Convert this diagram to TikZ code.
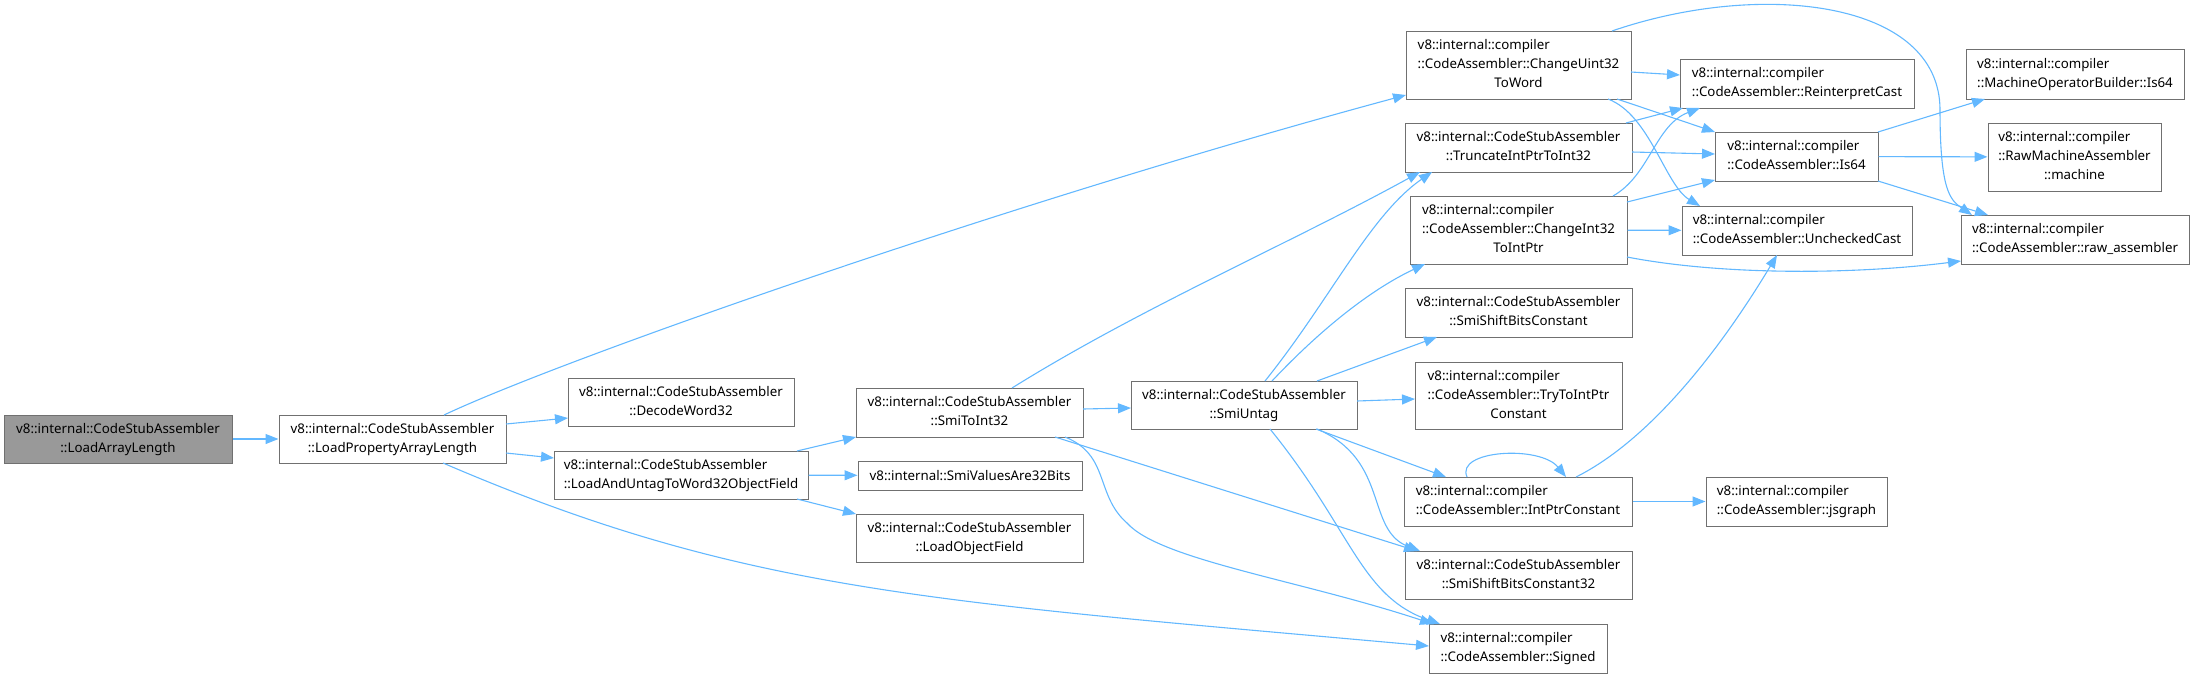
\documentclass[tikz,border=0pt]{standalone}
\usepackage{fontspec}
\setmainfont{Noto Sans}
\usetikzlibrary{arrows.meta}
\definecolor{edgeblue}{HTML}{63B8FF}
\definecolor{boxgray}{HTML}{707070}
\definecolor{startfill}{HTML}{999999}
\newcommand\lbl[2]{\begin{tabular}{@{}l@{}}#1\\\multicolumn{1}{@{}c@{}}{#2}\end{tabular}}
\renewcommand\arraystretch{1}
\tikzset{
  box/.style={draw=boxgray, line width=1pt, fill=white, inner sep=0pt, align=center,
    font=\fontsize{13.3}{19}\selectfont},
  startbox/.style={box, fill=startfill},
  edge/.style={draw=edgeblue, line width=1.1pt, -{Triangle[length=13pt,width=10pt]}},
}
\begin{document}
\begin{tikzpicture}[x=1pt,y=-1pt]
\useasboundingbox (0,0) rectangle (2194,678);
% nodes
\node[startbox, minimum width=228pt, minimum height=48pt] (lal) at (118,439) {\lbl{v8::internal::CodeStubAssembler}{::LoadArrayLength}};
\node[box, minimum width=227pt, minimum height=48pt] (lpal) at (392.5,439) {\lbl{v8::internal::CodeStubAssembler}{::LoadPropertyArrayLength}};
\node[box, minimum width=226pt, minimum height=48pt] (dw32) at (681,402) {\lbl{v8::internal::CodeStubAssembler}{::DecodeWord32}};
\node[box, minimum width=254pt, minimum height=48pt] (lut) at (681,475) {\lbl{v8::internal::CodeStubAssembler}{::LoadAndUntagToWord32ObjectField}};
\node[box, minimum width=227pt, minimum height=49pt] (s2i) at (969.5,412.5) {\lbl{v8::internal::CodeStubAssembler}{::SmiToInt32}};
\node[box, minimum width=224pt, minimum height=29pt] (sva) at (970,475.5) {v8::internal::SmiValuesAre32Bits};
\node[box, minimum width=227pt, minimum height=48pt] (lof) at (969.5,538) {\lbl{v8::internal::CodeStubAssembler}{::LoadObjectField}};
\node[box, minimum width=226pt, minimum height=48pt] (su) at (1244,405) {\lbl{v8::internal::CodeStubAssembler}{::SmiUntag}};
\node[box, minimum width=225pt, minimum height=68pt] (cu32) at (1518.5,65) {\lbl{v8::internal::compiler\\::CodeAssembler::ChangeUint32}{ToWord}};
\node[box, minimum width=227pt, minimum height=49pt] (trunc) at (1518.5,147.5) {\lbl{v8::internal::CodeStubAssembler}{::TruncateIntPtrToInt32}};
\node[box, minimum width=217pt, minimum height=68pt] (ci32) at (1518.5,230) {\lbl{v8::internal::compiler\\::CodeAssembler::ChangeInt32}{ToIntPtr}};
\node[box, minimum width=227pt, minimum height=49pt] (ssbc) at (1518.5,312.5) {\lbl{v8::internal::CodeStubAssembler}{::SmiShiftBitsConstant}};
\node[box, minimum width=207pt, minimum height=67pt] (try) at (1518.5,395.5) {\lbl{v8::internal::compiler\\::CodeAssembler::TryToIntPtr}{Constant}};
\node[box, minimum width=228pt, minimum height=49pt] (ipc) at (1518,501.5) {\lbl{v8::internal::compiler}{::CodeAssembler::IntPtrConstant}};
\node[box, minimum width=227pt, minimum height=48pt] (ssbc32) at (1518.5,575) {\lbl{v8::internal::CodeStubAssembler}{::SmiShiftBitsConstant32}};
\node[box, minimum width=178pt, minimum height=49pt] (signed) at (1518,648.5) {\lbl{v8::internal::compiler}{::CodeAssembler::Signed}};
\node[box, minimum width=234pt, minimum height=49pt] (reint) at (1797,83.5) {\lbl{v8::internal::compiler}{::CodeAssembler::ReinterpretCast}};
\node[box, minimum width=163pt, minimum height=49pt] (is64) at (1796.5,156.5) {\lbl{v8::internal::compiler}{::CodeAssembler::Is64}};
\node[box, minimum width=230pt, minimum height=49pt] (unch) at (1797,230.5) {\lbl{v8::internal::compiler}{::CodeAssembler::UncheckedCast}};
\node[box, minimum width=181pt, minimum height=49pt] (jsg) at (1796.5,501.5) {\lbl{v8::internal::compiler}{::CodeAssembler::jsgraph}};
\node[box, minimum width=218pt, minimum height=50pt] (mob) at (2075,74) {\lbl{v8::internal::compiler}{::MachineOperatorBuilder::Is64}};
\node[box, minimum width=173pt, minimum height=68pt] (mach) at (2074.5,157) {\lbl{v8::internal::compiler\\::RawMachineAssembler}{::machine}};
\node[box, minimum width=228pt, minimum height=49pt] (raw) at (2075,239.5) {\lbl{v8::internal::compiler}{::CodeAssembler::raw\_assembler}};
% edges
\draw[edge] (lal) -- (lpal);
\draw[edge] ([shift={(51.5,-24)}]lpal.center) .. controls (560,360) and (1006,203) .. ([shift={(-112.5,30)}]cu32.center);
\draw[edge] ([shift={(113.5,-15)}]lpal.center) -- ([shift={(-113,16)}]dw32.center);
\draw[edge] ([shift={(113.5,14)}]lpal.center) -- ([shift={(-127,-17)}]lut.center);
\draw[edge] ([shift={(50.5,24)}]lpal.center) .. controls (743,592) and (929,601) .. ([shift={(-89,-2.5)}]signed.center);
\draw[edge] ([shift={(116,-24)}]lut.center) -- ([shift={(-113.5,24.5)}]s2i.center);
\draw[edge] (lut) -- (sva);
\draw[edge] ([shift={(116,24)}]lut.center) -- ([shift={(-113.5,-24)}]lof.center);
\draw[edge] ([shift={(42.5,-24.5)}]s2i.center) .. controls (1142,307) and (1290,243.5) .. ([shift={(-98.5,24.5)}]trunc.center);
\draw[edge] ([shift={(113.5,-3.5)}]s2i.center) -- ([shift={(-113,3)}]su.center);
\draw[edge] ([shift={(85.5,24.5)}]s2i.center) -- ([shift={(-101.5,-24)}]ssbc32.center);
\draw[edge] ([shift={(95.5,24.5)}]s2i.center) .. controls (1110,455) and (1095,495) .. (1127,523) .. controls (1160,560) and (1300,580) .. ([shift={(-85,-24.5)}]signed.center);
\draw[edge] ([shift={(21,-24)}]su.center) .. controls (1330,300) and (1370,215) .. ([shift={(-86.5,24.5)}]trunc.center);
\draw[edge] ([shift={(28,-24)}]su.center) .. controls (1320,330) and (1370,290) .. ([shift={(-93.5,34)}]ci32.center);
\draw[edge] ([shift={(73,-24)}]su.center) -- ([shift={(-81.5,24.5)}]ssbc.center);
\draw[edge] ([shift={(113,-4)}]su.center) -- ([shift={(-103.5,3.5)}]try.center);
\draw[edge] ([shift={(72,24)}]su.center) -- ([shift={(-72,-24.5)}]ipc.center);
\draw[edge] ([shift={(73,24)}]su.center) .. controls (1390,460) and (1365,530) .. ([shift={(-98.5,-24)}]ssbc32.center);
\draw[edge] ([shift={(26,24)}]su.center) .. controls (1352,530) and (1360,596) .. ([shift={(-78,-24.5)}]signed.center);
\draw[edge] ([shift={(112.5,7)}]cu32.center) -- ([shift={(-117,-8.5)}]reint.center);
\draw[edge] ([shift={(98.5,34)}]cu32.center) -- ([shift={(-81.5,-24.5)}]is64.center);
\draw[edge] ([shift={(89.5,34)}]cu32.center) .. controls (1650,115) and (1665,185) .. ([shift={(-97,-24.5)}]unch.center);
\draw[edge] ([shift={(93.5,-34)}]cu32.center) .. controls (1760,-20) and (1940,0) .. (1940,110) .. controls (1940,190) and (1950,200) .. ([shift={(-103,-24.5)}]raw.center);
\draw[edge] ([shift={(107.5,-24.5)}]trunc.center) -- ([shift={(-114,24.5)}]reint.center);
\draw[edge] ([shift={(113.5,4.5)}]trunc.center) -- ([shift={(-81.5,-2.5)}]is64.center);
\draw[edge] ([shift={(94.5,-34)}]ci32.center) .. controls (1650,175) and (1655,125) .. ([shift={(-97,24.5)}]reint.center);
\draw[edge] ([shift={(108.5,-28)}]ci32.center) -- ([shift={(-81.5,23.5)}]is64.center);
\draw[edge] (ci32) -- (unch);
\draw[edge] ([shift={(108.5,27)}]ci32.center) .. controls (1720,275) and (1850,275) .. ([shift={(-114,21.5)}]raw.center);
\draw[edge] ([shift={(81.5,-24.5)}]is64.center) -- ([shift={(-90,25)}]mob.center);
\draw[edge] (is64) -- (mach);
\draw[edge] ([shift={(81.5,24.5)}]is64.center) -- ([shift={(-87,-24.5)}]raw.center);
\draw[edge] ([shift={(-51,-24.5)}]ipc.center) .. controls (1455,450) and (1540,445) .. ([shift={(48,-24.5)}]ipc.center);
\draw[edge] ([shift={(58,-24.5)}]ipc.center) .. controls (1650,440) and (1720,350) .. ([shift={(-20,24.5)}]unch.center);
\draw[edge] (ipc) -- (jsg);
\end{tikzpicture}
\end{document}
